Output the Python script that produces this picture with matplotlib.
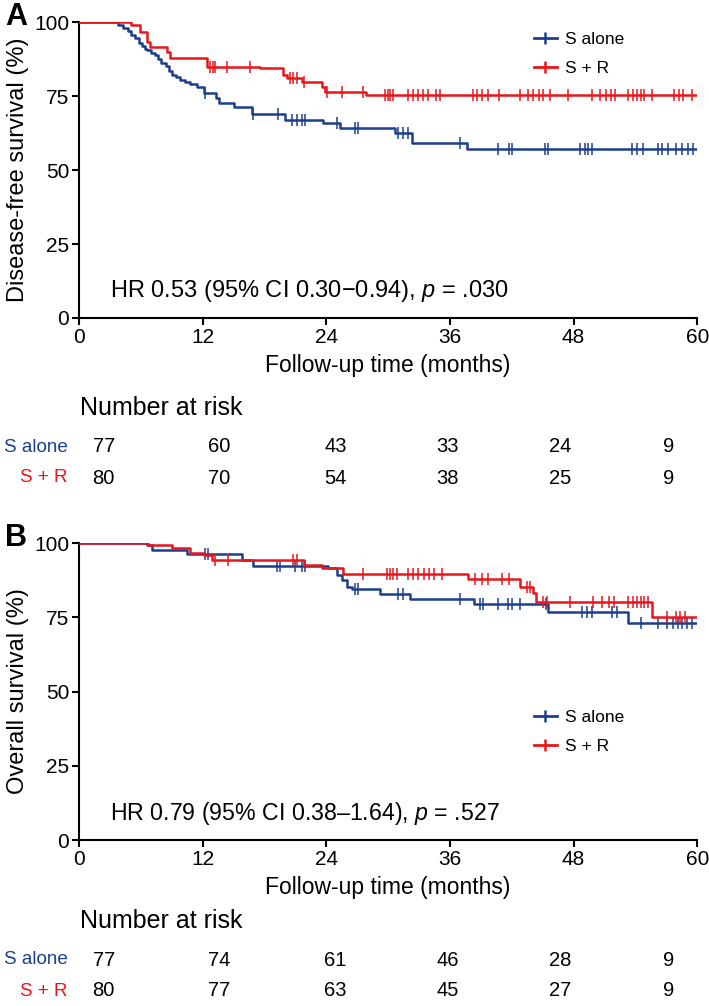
import numpy as np
import matplotlib
matplotlib.use('Agg')
import matplotlib.pyplot as plt
from matplotlib.lines import Line2D

plt.rcParams['font.family'] = ['Liberation Sans', 'DejaVu Sans']
plt.rcParams['mathtext.fontset'] = 'custom'
plt.rcParams['mathtext.rm'] = 'Liberation Sans'
plt.rcParams['mathtext.it'] = 'Liberation Sans:italic'

BLUE = '#1c3f8c'
RED = '#e8161c'

# ---- panel A: disease-free survival ----
dfs_s_t = [0, 3.8, 4.3, 4.8, 5.05, 5.4, 5.8, 6.1, 6.4, 6.6, 7.0, 7.4, 7.7, 8.0, 8.4, 8.7,
           9.0, 9.4, 9.8, 10.3, 10.8, 11.5, 12.1, 13.3, 13.6, 15.0, 16.8, 20.0, 23.7, 25.3,
           30.7, 32.3, 37.7, 60]
dfs_s_y = [100, 99, 98, 97, 95.6, 94.5, 93, 92, 91, 90.5, 89.5, 88.8, 87.5, 86, 85, 83.5,
           82, 81.4, 80.5, 79.7, 79, 78, 76, 74.3, 72.6, 71.2, 69, 67, 65.9, 64.2, 62.5,
           59.1, 57.1, 57.1]
dfs_s_cens = [12.2, 16.9, 19.3, 20.7, 21.2, 21.6, 21.9, 25.0, 26.8, 27.1, 31.0, 31.4, 31.9,
              37.0, 40.7, 41.7, 42.0, 45.2, 45.5, 48.6, 49.1, 49.4, 49.8, 53.7, 54.2, 54.7,
              56.2, 56.6, 57.2, 57.9, 58.5, 59.1, 59.6]

dfs_r_t = [0, 5.0, 5.9, 6.6, 6.9, 8.5, 8.8, 12.4, 17.6, 19.8, 20.2, 21.6, 23.6, 23.9, 27.9, 60]
dfs_r_y = [100, 99, 96.7, 93.3, 91.7, 90, 87.8, 84.8, 84.3, 82.2, 81, 79.8, 78.2, 76.4,
           75.3, 75.3]
dfs_r_cens = [12.7, 13.0, 13.2, 14.4, 16.6, 20.5, 20.8, 21.2, 21.8, 24.1, 25.5, 27.6, 29.7,
              29.95, 30.2, 30.45, 31.9, 32.4, 32.9, 33.4, 33.9, 34.6, 35.0, 38.2, 38.6,
              39.1, 39.7, 40.8, 42.8, 43.6, 44.1, 44.6, 45.0, 45.7, 47.5, 49.8, 50.6, 51.1,
              51.6, 52.0, 53.3, 53.8, 54.2, 54.5, 54.8, 55.6, 57.7, 58.2, 58.6, 59.5]

# ---- panel B: overall survival ----
os_s_t = [0, 6.6, 7.1, 10.5, 15.8, 16.9, 24.2, 25.0, 25.5, 26.0, 26.5, 29.2, 32.1, 38.3,
          45.5, 53.3, 60]
os_s_y = [100, 99.3, 97.6, 96.2, 94.3, 92.2, 91.6, 89.3, 87.5, 85.2, 84.5, 83.0, 81.3,
          79.5, 76.8, 73.0, 73.0]
os_s_cens = [12.2, 12.5, 19.2, 19.5, 21.0, 21.6, 21.9, 26.8, 27.1, 31.0, 31.4, 37.0, 38.9,
             39.2, 40.7, 41.6, 42.0, 42.8, 45.3, 48.8, 49.3, 49.8, 51.7, 52.2, 54.5, 56.2,
             57.1, 57.6, 58.1, 58.5, 59.0, 59.5]

os_r_t = [0, 6.7, 9.0, 10.8, 12.1, 12.9, 21.8, 23.6, 25.6, 37.8, 42.8, 44.1, 44.4, 55.6, 60]
os_r_y = [100, 99.3, 98.2, 96.5, 96.0, 94.3, 92.6, 91.6, 89.6, 87.8, 85.2, 83.2, 80.2,
          75.0, 75.0]
os_r_cens = [13.2, 14.5, 20.8, 21.2, 27.6, 29.9, 30.2, 30.5, 30.9, 31.9, 32.4, 32.9, 33.5,
             34.0, 34.5, 35.2, 38.4, 39.1, 39.7, 41.1, 41.7, 43.5, 43.8, 45.0, 45.4, 47.7,
             49.9, 50.8, 51.4, 51.9, 53.3, 53.8, 54.2, 54.5, 54.8, 55.2, 57.1, 57.9, 58.3,
             58.8]

xticks = [0, 12, 24, 36, 48, 60]
yticks = [0, 25, 50, 75, 100]
risk_a_s = [77, 60, 43, 33, 24, 9]
risk_a_r = [80, 70, 54, 38, 25, 9]
risk_b_s = [77, 74, 61, 46, 28, 9]
risk_b_r = [80, 77, 63, 45, 27, 9]
risk_x = [2.4, 13.6, 24.9, 35.8, 46.7, 57.2]

hr_a = 'HR 0.53 (95% CI 0.30\u22120.94), $p$ = .030'
hr_b = 'HR 0.79 (95% CI 0.38\u20131.64), $p$ = .527'


def surv_at(t, times, surv):
    idx = np.searchsorted(times, t, side='right') - 1
    return np.array(surv)[idx]


def draw_curve(ax, times, surv, cens, color):
    ax.step(times, surv, where='post', color=color, lw=1.8, zorder=3)
    cy = surv_at(np.array(cens), np.array(times), surv)
    ax.plot(cens, cy, ls='none', marker='|', ms=9, mew=1.1, color=color, zorder=3)


def style_axes(ax, ylabel):
    ax.set_xlim(0, 60)
    ax.set_ylim(0, 100)
    ax.set_xticks(xticks)
    ax.set_yticks(yticks)
    for s in ['top', 'right']:
        ax.spines[s].set_visible(False)
    for s in ['left', 'bottom']:
        ax.spines[s].set_linewidth(1.5)
    ax.tick_params(direction='out', length=5, width=1.5, labelsize=15, pad=2)
    ax.set_xlabel('Follow-up time (months)', fontsize=16.5, labelpad=5)
    ax.set_ylabel(ylabel, fontsize=17, labelpad=4)


fig = plt.figure(figsize=(7.09, 10.06), dpi=100)

axA = fig.add_axes([0.1114, 0.6839, 0.872, 0.2942])
draw_curve(axA, dfs_s_t, dfs_s_y, dfs_s_cens, BLUE)
draw_curve(axA, dfs_r_t, dfs_r_y, dfs_r_cens, RED)
style_axes(axA, 'Disease-free survival (%)')
axA.text(0.05, 0.09, hr_a, transform=axA.transAxes, fontsize=17, va='center')

axB = fig.add_axes([0.1114, 0.165, 0.872, 0.2952])
draw_curve(axB, os_s_t, os_s_y, os_s_cens, BLUE)
draw_curve(axB, os_r_t, os_r_y, os_r_cens, RED)
style_axes(axB, 'Overall survival (%)')
axB.text(0.05, 0.09, hr_b, transform=axB.transAxes, fontsize=16.7, va='center')

handles = [Line2D([], [], color=BLUE, lw=2, marker='|', ms=9, mew=1.8),
           Line2D([], [], color=RED, lw=2, marker='|', ms=9, mew=1.8)]
for ax, yb in [(axA, 1.02), (axB, 0.49)]:
    ax.legend(handles, ['S alone', 'S + R'], loc='upper left', bbox_to_anchor=(0.71, yb),
              frameon=False, fontsize=12.5, handlelength=1.35, handletextpad=0.45,
              labelspacing=0.8)

# number at risk tables
for ax, rs, rr, y0 in [(axA, risk_a_s, risk_a_r, 408), (axB, risk_b_s, risk_b_r, 921)]:
    fig.text(80 / 709, 1 - y0 / 1006, 'Number at risk', fontsize=18, va='center')
    ys = 1 - (y0 + 39) / 1006
    yr = 1 - (y0 + 70) / 1006
    fig.text(68 / 709, ys, 'S alone', color=BLUE, fontsize=13.5, va='center', ha='right')
    fig.text(68 / 709, yr, 'S + R', color=RED, fontsize=13.5, va='center', ha='right')
    for xv, a, b in zip(risk_x, rs, rr):
        xf = ax.transData.transform((xv, 0))[0] / fig.bbox.width
        fig.text(xf, ys, str(a), fontsize=14.5, va='center', ha='center')
        fig.text(xf, yr, str(b), fontsize=14.5, va='center', ha='center')

fig.text(5 / 709, 1 - 17 / 1006, 'A', fontsize=22, fontweight='bold', va='center')
fig.text(5 / 709, 1 - 538 / 1006, 'B', fontsize=22, fontweight='bold', va='center')

fig.savefig('out.png', dpi=100)
